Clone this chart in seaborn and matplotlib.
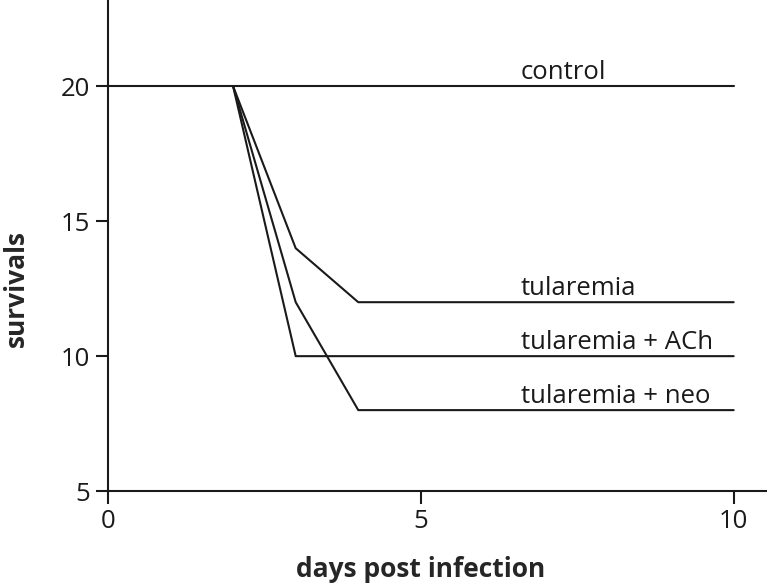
import matplotlib
matplotlib.use("Agg")
import matplotlib.pyplot as plt
import pandas as pd
import seaborn as sns

# survival curves
days_control = [0, 10]
surv_control = [20, 20]
days_tul = [2, 3, 4, 10]
surv_tul = [20, 14, 12, 12]
days_ach = [2, 3, 10]
surv_ach = [20, 10, 10]
days_neo = [2, 3, 4, 10]
surv_neo = [20, 12, 8, 8]

labels = ["control", "tularemia", "tularemia + ACh", "tularemia + neo"]
label_x = 6.6

frames = []
for name, d, s in zip(labels,
                      [days_control, days_tul, days_ach, days_neo],
                      [surv_control, surv_tul, surv_ach, surv_neo]):
    frames.append(pd.DataFrame({"day": d, "survivals": s, "group": name}))
df = pd.concat(frames, ignore_index=True)

sns.set_style("ticks")
plt.rcParams['font.family'] = ['Open Sans', 'DejaVu Sans']

fig = plt.figure(figsize=(7.67, 5.86), dpi=100)
ax = fig.add_axes([0.1408, 0.162, 0.859, 0.838])

sns.lineplot(data=df, x="day", y="survivals", units="group", estimator=None,
             color="#1a1a1a", linewidth=1.5, ax=ax, legend=False, sort=False)

for name, s in zip(labels, [surv_control, surv_tul, surv_ach, surv_neo]):
    ax.text(label_x, s[-1] + 0.27, name, fontsize=18.5, ha="left", va="baseline",
            color="#1a1a1a")

ax.set_xlim(0, 10.53)
ax.set_ylim(5, 23.2)
ax.set_xticks([0, 5, 10])
ax.set_yticks([5, 10, 15, 20])
ax.tick_params(axis="both", length=9, width=1.5, labelsize=18.5, colors="#1a1a1a",
               direction="out", pad=4)
for side in ["top", "right"]:
    ax.spines[side].set_visible(False)
for side in ["left", "bottom"]:
    ax.spines[side].set_linewidth(1.5)
    ax.spines[side].set_color("#1a1a1a")

ax.set_xlabel("days post infection", fontsize=19, fontweight="bold")
ax.set_ylabel("survivals", fontsize=19, fontweight="bold")
ax.xaxis.set_label_coords(0.474, -0.132)
ax.yaxis.set_label_coords(-0.119, 0.413)

fig.savefig("out.png", dpi=100)
